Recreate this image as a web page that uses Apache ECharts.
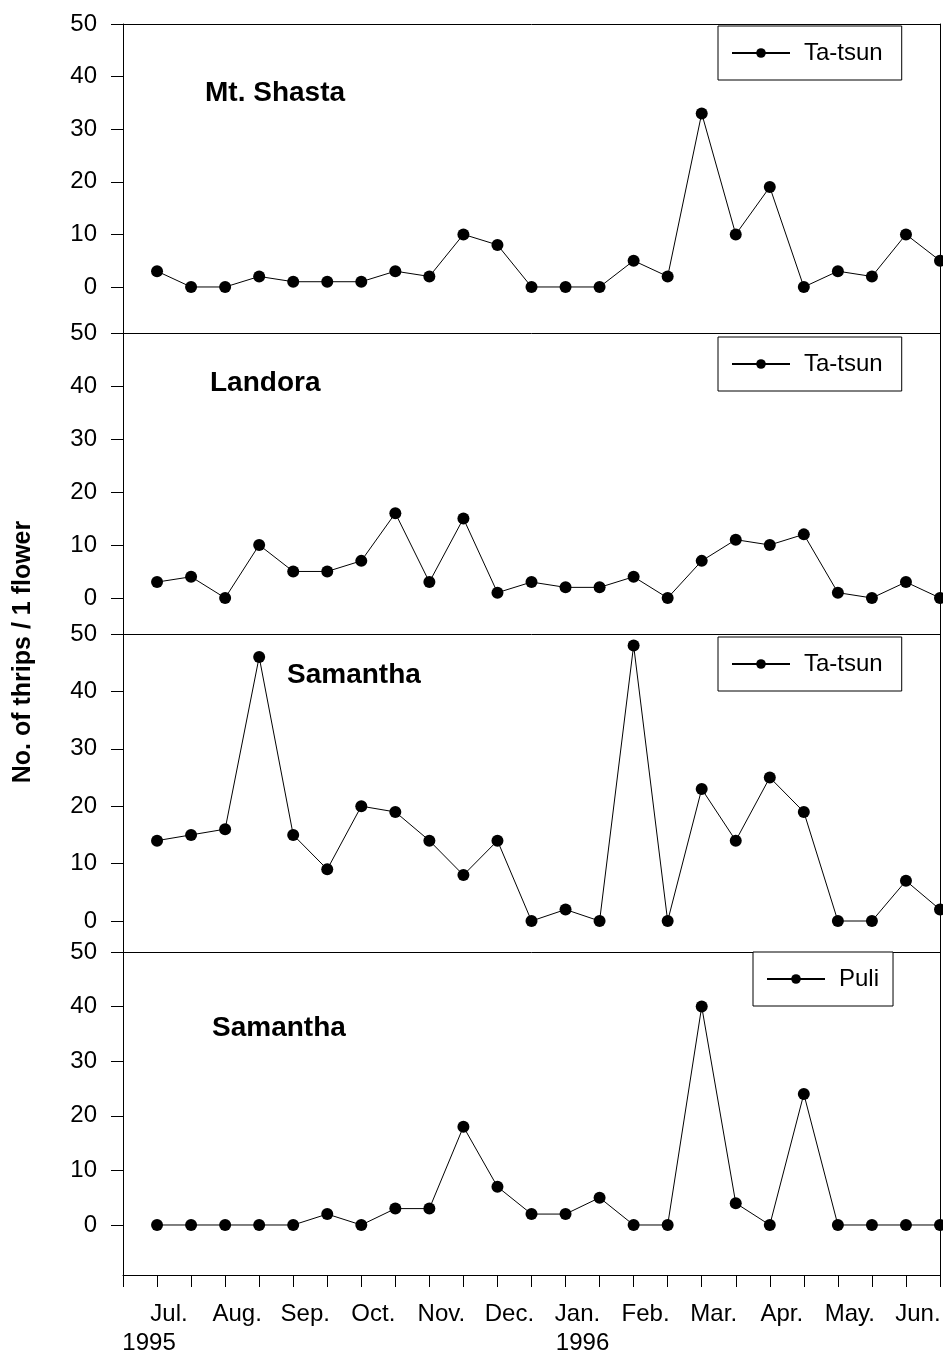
<!DOCTYPE html>
<html>
<head>
<meta charset="utf-8">
<script src="https://cdn.jsdelivr.net/npm/echarts@6/dist/echarts.min.js"></script>
<style>
  html, body { margin: 0; padding: 0; background: #fff; }
  #main { width: 943px; height: 1353px; }
</style>
</head>
<body>
<div id="main"></div>
<script>
// semi-monthly samples, Jul. 1995 - Jun. 1996
var months = ['Jul.', 'Aug.', 'Sep.', 'Oct.', 'Nov.', 'Dec.', 'Jan.', 'Feb.', 'Mar.', 'Apr.', 'May.', 'Jun.'];
var years = { 0: '1995', 12: '1996' };
var yTicks = [0, 10, 20, 30, 40, 50];

var panelTitles = ['Mt. Shasta', 'Landora', 'Samantha', 'Samantha'];
var panelSites = ['Ta-tsun', 'Ta-tsun', 'Ta-tsun', 'Puli'];

var shastaTatsun = [3, 0, 0, 2, 1, 1, 1, 3, 2, 10, 8, 0, 0, 0, 5, 2, 33, 10, 19, 0, 3, 2, 10, 5];
var landoraTatsun = [3, 4, 0, 10, 5, 5, 7, 16, 3, 15, 1, 3, 2, 2, 4, 0, 7, 11, 10, 12, 1, 0, 3, 0];
var samanthaTatsun = [14, 15, 16, 46, 15, 9, 20, 19, 14, 8, 14, 0, 2, 0, 48, 0, 23, 14, 25, 19, 0, 0, 7, 2];
var samanthaPuli = [0, 0, 0, 0, 0, 2, 0, 3, 3, 18, 7, 2, 2, 5, 0, 0, 40, 4, 0, 24, 0, 0, 0, 0];
var panelData = [shastaTatsun, landoraTatsun, samanthaTatsun, samanthaPuli];

var myChart = echarts.init(document.getElementById('main'));

var FONT = '"Liberation Sans", Arial, sans-serif';
var axisLine = { show: true, onZero: false, lineStyle: { color: '#000', width: 1 } };

// panel layout (pixel boxes) and lower bound of each y scale
var grids = [
  { top: 24, height: 309, min: -8.75, titleX: 205, titleY: 95, legendLeft: 718, legendTop: 26, padR: 19 },
  { top: 333, height: 301, min: -6.8, titleX: 210, titleY: 385, legendLeft: 718, legendTop: 337, padR: 19 },
  { top: 634, height: 318, min: -5.4, titleX: 287, titleY: 677, legendLeft: 718, legendTop: 637, padR: 19 },
  { top: 952, height: 323, min: -9.16, titleX: 212, titleY: 1030, legendLeft: 753, legendTop: 952, padR: 14 }
];

var option = {
  animation: false,
  backgroundColor: '#fff',
  textStyle: { fontFamily: FONT, color: '#000' },
  grid: [],
  xAxis: [],
  yAxis: [],
  legend: [],
  series: [],
  graphic: []
};

grids.forEach(function(g, i) {
  option.grid.push({ left: 123, right: 3, top: g.top, height: g.height, outerBoundsMode: 'none' });

  // top border of the panel
  option.xAxis.push({
    type: 'value', gridIndex: i, position: 'top', min: -1, max: 23,
    axisLine: axisLine, axisTick: { show: false }, axisLabel: { show: false }, splitLine: { show: false }
  });

  option.yAxis.push({
    type: 'value', gridIndex: i, min: g.min, max: 50,
    axisLine: axisLine,
    axisTick: { show: true, length: 12, customValues: yTicks, lineStyle: { color: '#000' } },
    axisLabel: { customValues: yTicks, fontSize: 24, color: '#000', margin: 26, fontFamily: FONT },
    splitLine: { show: false }
  });
  // right border
  option.yAxis.push({
    type: 'value', gridIndex: i, position: 'right', min: g.min, max: 50,
    axisLine: axisLine, axisTick: { show: false }, axisLabel: { show: false }, splitLine: { show: false }
  });

  option.legend.push({
    data: [panelSites[i]],
    left: g.legendLeft, top: g.legendTop,
    padding: [15, g.padR, 15, 13],
    borderColor: '#000', borderWidth: 1, backgroundColor: '#fff',
    itemWidth: 58, itemHeight: 12,
    selectedMode: false,
    textStyle: { fontSize: 24, color: '#000', fontFamily: FONT, padding: [0, 0, 0, 9] }
  });

  option.graphic.push({
    type: 'text', left: g.titleX, top: g.titleY - 16,
    style: { text: panelTitles[i], font: 'bold 28px ' + FONT, fill: '#000' }
  });
});

// bottom axis of last panel: ticks + month labels
option.xAxis.push({
  type: 'value', gridIndex: 3, position: 'bottom', min: -1, max: 23, interval: 1,
  axisLine: axisLine,
  axisTick: { show: true, inside: false, length: 12, lineStyle: { color: '#000' } },
  axisLabel: {
    customValues: [0, 2, 4, 6, 8, 10, 12, 14, 16, 18, 20, 22],
    formatter: function(v) { return months[v / 2]; },
    fontSize: 24, color: '#000', margin: 27, padding: [0, 0, 0, 24], fontFamily: FONT
  },
  splitLine: { show: false }
});
// year labels
option.xAxis.push({
  type: 'value', gridIndex: 3, position: 'bottom', min: -1, max: 23,
  axisLine: { show: false, onZero: false }, axisTick: { show: false },
  axisLabel: {
    customValues: [0, 12],
    formatter: function(v) { return v === 0 ? '{a|' + years[v] + '}' : '{b|' + years[v] + '}'; },
    margin: 56,
    rich: {
      a: { fontSize: 24, color: '#000', fontFamily: FONT, padding: [0, 16, 0, 0] },
      b: { fontSize: 24, color: '#000', fontFamily: FONT, padding: [0, 0, 0, 34] }
    }
  },
  splitLine: { show: false }
});

var xIdx = [0, 1, 2, 4];
panelData.forEach(function(d, i) {
  option.series.push({
    name: panelSites[i],
    type: 'line',
    xAxisIndex: xIdx[i],
    yAxisIndex: i * 2,
    data: d.map(function(v, k) { return [k, v]; }),
    symbol: 'circle',
    symbolSize: 12,
    clip: false,
    itemStyle: { color: '#000' },
    lineStyle: { color: '#000', width: 1 }
  });
});

// y axis title
option.graphic.push({
  type: 'text', x: 23, y: 652, rotation: Math.PI / 2,
  style: { text: 'No. of thrips / 1 flower', font: 'bold 25px ' + FONT, fill: '#000', align: 'center', verticalAlign: 'middle' }
});

myChart.setOption(option);
</script>
</body>
</html>
